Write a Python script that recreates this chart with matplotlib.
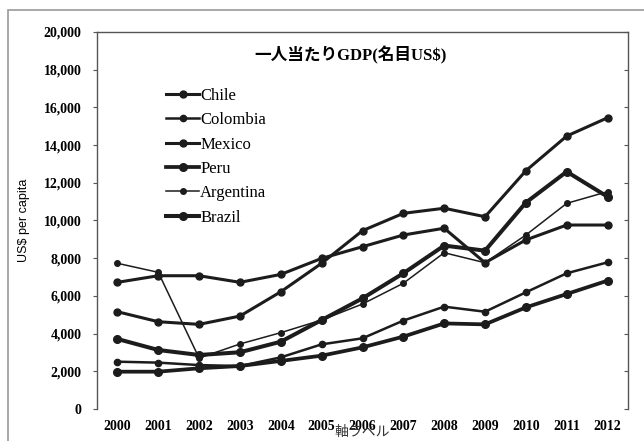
import matplotlib.pyplot as plt
from matplotlib.patches import Rectangle

# 一人当たりGDP (名目US$), 2000-2012
years = ['2000', '2001', '2002', '2003', '2004', '2005', '2006',
         '2007', '2008', '2009', '2010', '2011', '2012']
chile = [5160, 4630, 4490, 4930, 6220, 7730, 9460, 10380, 10650, 10200, 12640, 14480, 15450]
colombia = [2510, 2460, 2330, 2280, 2740, 3430, 3750, 4690, 5430, 5160, 6190, 7200, 7780]
mexico = [6720, 7070, 7070, 6720, 7140, 7990, 8610, 9230, 9590, 7760, 8970, 9760, 9760]
peru = [1980, 1980, 2160, 2280, 2550, 2830, 3270, 3840, 4540, 4490, 5390, 6100, 6810]
argentina = [7730, 7250, 2700, 3450, 4050, 4720, 5570, 6670, 8290, 7760, 9230, 10910, 11530]
brazil = [3715, 3130, 2865, 3010, 3570, 4720, 5870, 7200, 8670, 8400, 10950, 12590, 11260]

series = [
    ('Chile', chile, 2.2, 5.0),
    ('Colombia', colombia, 1.8, 4.5),
    ('Mexico', mexico, 2.2, 5.0),
    ('Peru', peru, 2.7, 5.5),
    ('Argentina', argentina, 1.1, 4.0),
    ('Brazil', brazil, 2.9, 5.5),
]

fig = plt.figure(figsize=(6.44, 4.41), dpi=100)
ax = fig.add_axes([97 / 644, 32 / 441, 531 / 644, 377 / 441])

# outer chart border (cut off at right and bottom)
fig.patches.append(Rectangle((8 / 644, -0.1), 1.2, (441 - 10) / 441 + 0.1,
                             transform=fig.transFigure, fill=False,
                             edgecolor='#9a9a9a', linewidth=1.2))

x = list(range(len(years)))
for name, vals, lw, ms in series:
    ax.plot(x, vals, color='#1c1c1c', linewidth=lw, marker='o',
            markersize=ms, label=name)

ax.set_xlim(-0.5, len(years) - 0.5)
ax.set_ylim(0, 20000)
yticks = list(range(0, 20001, 2000))
ax.set_yticks(yticks)
ax.set_yticklabels([f'{v:,}' for v in yticks],
                   fontfamily='Liberation Serif', fontweight='bold', fontsize=10)
ax.set_xticks(x)
ax.set_xticklabels(years, fontfamily='Liberation Serif', fontweight='bold',
                   fontsize=10)

ax.spines['bottom'].set_visible(False)
for side in ['left', 'top', 'right']:
    ax.spines[side].set_color('#555555')
    ax.spines[side].set_linewidth(1.0)
ax.tick_params(axis='x', length=0, pad=8)
ax.tick_params(axis='y', direction='out', length=3, color='#555555', pad=8)

# small inward ticks along the right border
right = ax.secondary_yaxis('right')
right.set_yticks(yticks)
right.tick_params(direction='in', length=3, color='#555555', labelright=False)
right.spines['right'].set_visible(False)

ax.set_ylabel('US$ per capita', fontfamily='Liberation Sans', fontsize=9,
              labelpad=10)
ax.text(0.5, -0.062, '軸ラベル', transform=ax.transAxes, ha='center',
        va='center', fontsize=10, family=['Noto Sans CJK JP'], color='#333333')

ax.text(351 / 644, (441 - 55) / 441, '一人当たりGDP(名目US$)',
        transform=fig.transFigure, ha='center', va='center', fontsize=12,
        fontweight='bold', family=['Liberation Serif', 'Noto Sans CJK JP'])

leg = ax.legend(loc='upper left', bbox_to_anchor=(166 / 644, (441 - 88) / 441),
                bbox_transform=fig.transFigure, frameon=False, borderpad=0,
                borderaxespad=0, handlelength=2.0, handletextpad=0.05,
                labelspacing=0.5, prop={'family': 'Liberation Serif', 'size': 12})

fig.savefig('out.png', dpi=100)
